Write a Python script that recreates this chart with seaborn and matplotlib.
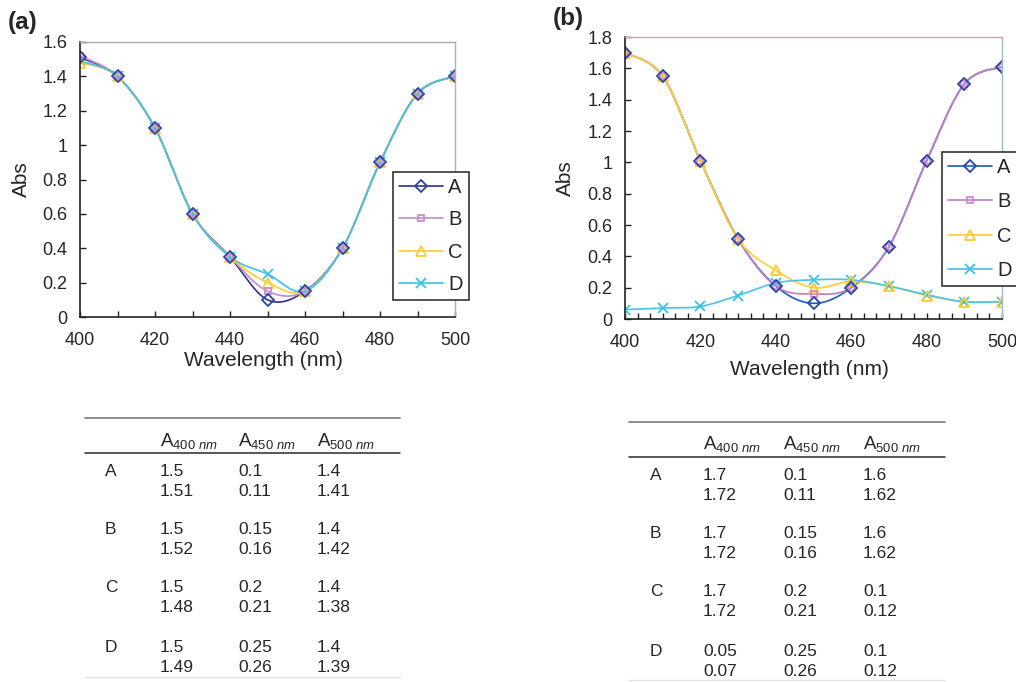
import numpy as np
import matplotlib
matplotlib.use("Agg")
import matplotlib.pyplot as plt
from matplotlib.lines import Line2D
from matplotlib.ticker import MultipleLocator
import seaborn as sns

sns.set_theme(style="white")
plt.rcParams["font.family"] = ["Liberation Sans", "DejaVu Sans"]
plt.rcParams["mathtext.fontset"] = "custom"
plt.rcParams["mathtext.rm"] = "Liberation Sans"
plt.rcParams["mathtext.it"] = "Liberation Sans:italic"

# ---- data -----------------------------------------------------------------
wavelength = [400, 410, 420, 430, 440, 450, 460, 470, 480, 490, 500]
series = ["A", "B", "C", "D"]

abs_a = {
    "A": [1.51, 1.40, 1.10, 0.60, 0.35, 0.10, 0.15, 0.40, 0.90, 1.30, 1.40],
    "B": [1.52, 1.40, 1.10, 0.60, 0.35, 0.15, 0.15, 0.40, 0.90, 1.30, 1.40],
    "C": [1.48, 1.40, 1.10, 0.60, 0.35, 0.20, 0.15, 0.40, 0.90, 1.30, 1.40],
    "D": [1.49, 1.40, 1.10, 0.60, 0.35, 0.25, 0.15, 0.40, 0.90, 1.30, 1.40],
}
abs_b = {
    "A": [1.70, 1.55, 1.01, 0.51, 0.21, 0.10, 0.20, 0.46, 1.01, 1.50, 1.61],
    "B": [1.70, 1.55, 1.01, 0.51, 0.21, 0.16, 0.20, 0.46, 1.01, 1.50, 1.61],
    "C": [1.70, 1.55, 1.01, 0.51, 0.31, 0.20, 0.24, 0.21, 0.15, 0.11, 0.11],
    "D": [0.06, 0.07, 0.08, 0.15, 0.23, 0.25, 0.25, 0.21, 0.155, 0.11, 0.11],
}

table_cols = ["400", "450", "500"]
table_a = {
    "A": [["1.5", "0.1", "1.4"], ["1.51", "0.11", "1.41"]],
    "B": [["1.5", "0.15", "1.4"], ["1.52", "0.16", "1.42"]],
    "C": [["1.5", "0.2", "1.4"], ["1.48", "0.21", "1.38"]],
    "D": [["1.5", "0.25", "1.4"], ["1.49", "0.26", "1.39"]],
}
table_b = {
    "A": [["1.7", "0.1", "1.6"], ["1.72", "0.11", "1.62"]],
    "B": [["1.7", "0.15", "1.6"], ["1.72", "0.16", "1.62"]],
    "C": [["1.7", "0.2", "0.1"], ["1.72", "0.21", "0.12"]],
    "D": [["0.05", "0.25", "0.1"], ["0.07", "0.26", "0.12"]],
}

# ---- styles ---------------------------------------------------------------
line_col_a = {"A": "#35398f", "B": "#c98ccc", "C": "#ffcf35", "D": "#3fc2e6"}
line_col_b = {"A": "#2262c4", "B": "#c27fc6", "C": "#ffcf35", "D": "#4cc4e6"}
mark_col = {"A": "#2a45a8", "B": "#d08ad0", "C": "#ffcb2a", "D": "#3fc0e6"}
marker = {"A": "D", "B": "s", "C": "^", "D": "x"}
msize = {"A": 6.0, "B": 4.5, "C": 7.5, "D": 7.5}

W, H = 1016, 682


def smooth_curve(x, y, per_seg=24):
    """Excel-style smoothed line (cubic Bezier / Catmull-Rom through points)."""
    P = np.column_stack([np.asarray(x, float), np.asarray(y, float)])
    P = np.vstack([P[0], P, P[-1]])
    out = []
    t = np.linspace(0, 1, per_seg, endpoint=False)[:, None]
    for i in range(1, len(P) - 2):
        p0, p1, p2, p3 = P[i - 1], P[i], P[i + 1], P[i + 2]
        c1 = p1 + (p2 - p0) / 6.0
        c2 = p2 - (p3 - p1) / 6.0
        seg = ((1 - t) ** 3) * p1 + 3 * ((1 - t) ** 2) * t * c1 + 3 * (1 - t) * t ** 2 * c2 + t ** 3 * p2
        out.append(seg)
    out.append(P[-2][None, :])
    out = np.vstack(out)
    return out[:, 0], out[:, 1]


def px_axes(fig, left, top, right, bottom):
    return fig.add_axes([left / W, 1 - bottom / H, (right - left) / W, (bottom - top) / H])


fig = plt.figure(figsize=(W / 100, H / 100), dpi=100)


def draw_panel(ax, data, line_col, ymax, top_col, right_col, minor_step, legend_box, spacing):
    for s in series:
        xs, ys = smooth_curve(wavelength, data[s])
        sns.lineplot(x=xs, y=ys, ax=ax, color=line_col[s], lw=1.25, sort=False,
                     estimator=None, legend=False)
    for s in ["D", "C", "B", "A"]:
        sns.lineplot(x=wavelength, y=data[s], ax=ax, color=mark_col[s], lw=0,
                     marker=marker[s], markersize=msize[s], markerfacecolor="none",
                     markeredgecolor=mark_col[s], markeredgewidth=1.3,
                     estimator=None, legend=False)
    ax.set_xlim(400, 500)
    ax.set_ylim(0, ymax)
    ax.xaxis.set_major_locator(MultipleLocator(20))
    ax.xaxis.set_minor_locator(MultipleLocator(minor_step))
    ax.set_xticklabels([f"{int(v)}" for v in ax.get_xticks()])
    yt = np.arange(0, ymax + 1e-9, 0.2)
    ax.set_yticks(yt)
    ax.set_yticklabels([("0" if v == 0 else ("1" if abs(v - 1) < 1e-9 else f"{v:.1f}")) for v in yt])
    ax.set_xlim(400, 500)
    ax.set_ylim(0, ymax)
    ax.tick_params(axis="x", which="both", direction="in", length=4, width=1.0,
                   color="#222222", pad=11, labelsize=13, bottom=True)
    ax.tick_params(axis="y", which="major", direction="in", length=4, width=1.0,
                   color="#222222", pad=9, labelsize=13, left=True)
    for side in ["left", "bottom"]:
        ax.spines[side].set_color("#222222")
        ax.spines[side].set_linewidth(1.2)
    ax.spines["top"].set_color(top_col)
    ax.spines["right"].set_color(right_col)
    ax.spines["top"].set_linewidth(1.0)
    ax.spines["right"].set_linewidth(1.0)
    ax.set_facecolor("white")
    ax.grid(False)
    ax.set_xlabel("Wavelength (nm)", fontsize=15)
    ax.set_ylabel("Abs", fontsize=15)

    handles = [Line2D([], [], color=line_col[s], lw=1.25, marker=marker[s], markersize=msize[s],
                      markerfacecolor="none", markeredgecolor=mark_col[s], markeredgewidth=1.3)
               for s in series]
    l, t, r, b = legend_box
    leg = fig.legend(handles, series, loc="upper left",
                     bbox_to_anchor=(l / W, 1 - t / H), bbox_transform=fig.transFigure,
                     fontsize=14.5, frameon=True, fancybox=False, borderpad=0.3,
                     handlelength=2.2, handletextpad=0.25, labelspacing=spacing,
                     borderaxespad=0)
    fr = leg.get_frame()
    fr.set_edgecolor("#222222")
    fr.set_linewidth(1.1)
    fr.set_facecolor("white")
    fr.set_alpha(1)
    return ax


ax_a = px_axes(fig, 80, 42, 455, 317)
draw_panel(ax_a, abs_a, line_col_a, 1.6, "#a3abb0", "#c9a89a", 10, (393, 172, 462, 300), 0.66)
ax_a.xaxis.set_label_coords(0.49, -0.124)
ax_a.yaxis.set_label_coords(-0.13, 0.5)

ax_b = px_axes(fig, 625, 37, 1002, 319)
draw_panel(ax_b, abs_b, line_col_b, 1.8, "#cfa2a8", "#9cbccc", 10 / 3, (942, 152, 1013, 287), 0.76)
ax_b.xaxis.set_label_coords(0.49, -0.145)
ax_b.yaxis.set_label_coords(-0.133, 0.5)

fig.text(8 / W, 1 - 22 / H, "(a)", fontsize=17.5, fontweight="bold", va="center", ha="left")
fig.text(553 / W, 1 - 18 / H, "(b)", fontsize=17.5, fontweight="bold", va="center", ha="left")

# ---- tables ---------------------------------------------------------------
tab = fig.add_axes([0, 0, 1, 1], zorder=-1)
tab.set_xlim(0, W)
tab.set_ylim(H, 0)
tab.axis("off")


def draw_table(rows, x0, x1, top_y, head_y, rule_y, row_ys, bottom_y, label_x, col_x):
    tab.plot([x0, x1], [top_y, top_y], color="#8c8c8c", lw=1.4)
    tab.plot([x0, x1], [rule_y, rule_y], color="#2a2a2a", lw=1.1)
    tab.plot([x0, x1], [bottom_y, bottom_y], color="#e2e2e2", lw=1.0)
    for cx, c in zip(col_x, table_cols):
        tab.text(cx, head_y, r"A$_{\mathit{" + c + r"\ nm}}$", fontsize=13.5,
                 ha="left", va="center")
    for (name, vals), (y1, y2) in zip(rows.items(), row_ys):
        tab.text(label_x, y1, name, fontsize=12.5, ha="left", va="center")
        for cx, v1, v2 in zip(col_x, vals[0], vals[1]):
            tab.text(cx, y1, v1, fontsize=12.5, ha="left", va="center")
            tab.text(cx, y2, v2, fontsize=12.5, ha="left", va="center")


draw_table(table_a, 85, 400, 418, 441, 453,
           [(472, 492), (529, 549), (588, 608), (648, 668)], 677,
           105, [160, 238, 317])
draw_table(table_b, 629, 945, 422, 444, 457,
           [(475, 495), (533, 553), (592, 612), (652, 672)], 680,
           650, [703, 783, 863])

fig.savefig("out.png", dpi=100, facecolor="white")
